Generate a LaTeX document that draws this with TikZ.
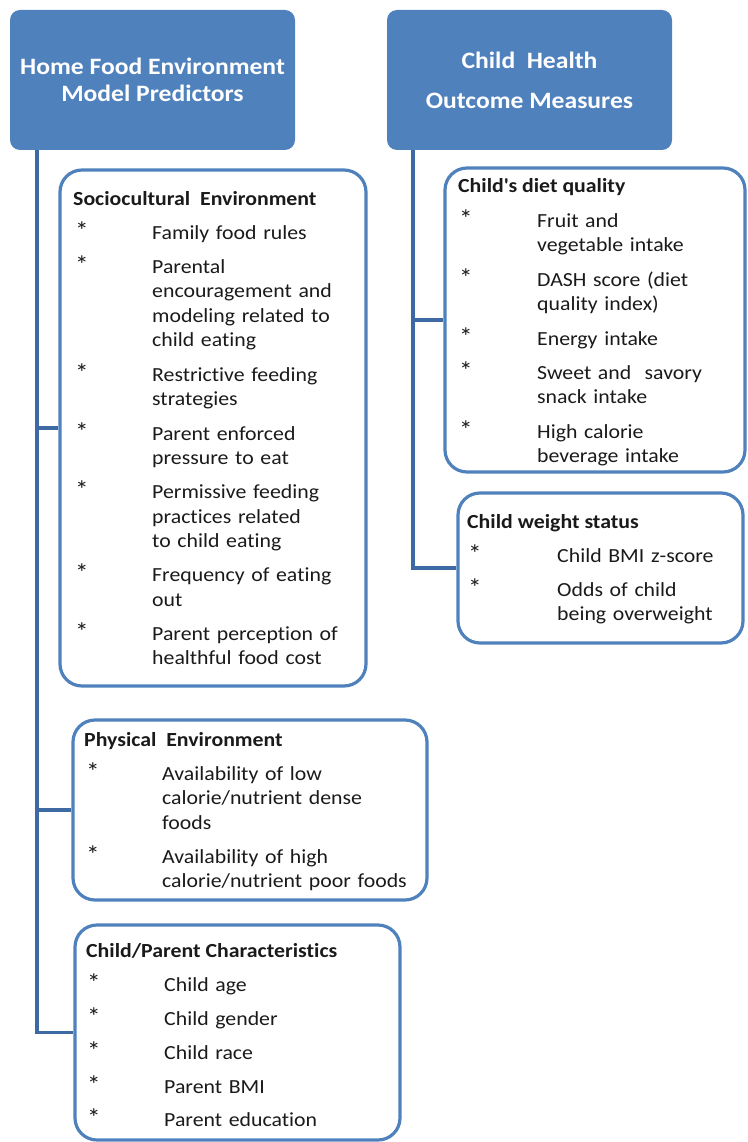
\documentclass[tikz,border=0pt]{standalone}
\usepackage{fontspec}
\setmainfont{Carlito}[FakeStretch=1.09,Ligatures=NoCommon]
\definecolor{hdrblue}{HTML}{4F81BD}
\definecolor{lineblue}{HTML}{3D6AA2}
\definecolor{txt}{HTML}{1A1A1A}

\begin{document}
\begin{tikzpicture}[x=1pt,y=-1pt,
    header/.style={rectangle,rounded corners=10pt,fill=hdrblue,text=white,
        font=\fontsize{23.5}{27.5}\selectfont\bfseries,align=center,
        inner sep=0pt,minimum width=285pt,minimum height=140pt},
    group/.style={rectangle,rounded corners=22pt,draw=hdrblue,line width=3.2pt,inner sep=0pt},
    title/.style={anchor=base west,inner sep=0pt,text=txt,font=\fontsize{20}{24.5}\selectfont\bfseries},
    bullet/.style={anchor=base west,inner sep=0pt,text=txt,font=\fontsize{25}{24.5}\selectfont},
    item/.style={anchor=base west,inner sep=0pt,text=txt,font=\fontsize{20}{24.5}\selectfont,
        align=left,text width=300pt},
    trunk/.style={draw=lineblue,line width=3.5pt}]

  \useasboundingbox (0,0) rectangle (747,1142);

  % headers
  \node[header] (hfe) at (152.5,80) {Home Food Environment\\Model Predictors};
  \node[header,font=\fontsize{23.5}{40}\selectfont\bfseries] (cho) at (529.5,80) {Child~ Health\\Outcome Measures};

  % group boxes
  \node[group,minimum width=306pt,minimum height=516pt] (soc) at (213,428) {};
  \node[group,minimum width=354pt,minimum height=180pt] (phys) at (250,810) {};
  \node[group,minimum width=325pt,minimum height=215pt] (chars) at (237.5,1032.5) {};
  \node[group,minimum width=300pt,minimum height=304pt] (diet) at (595,320) {};
  \node[group,minimum width=285pt,minimum height=150pt] (weight) at (600.5,568) {};

  % trunks
  \coordinate (lt) at ([xshift=27pt]hfe.south west);
  \coordinate (rt) at ([xshift=26pt]cho.south west);
  \draw[trunk] (lt) |- (soc.west);
  \draw[trunk] (lt) |- (phys.west);
  \draw[trunk] (lt) |- (chars.west);
  \draw[trunk] (rt) |- (diet.west);
  \draw[trunk] (rt) |- (weight.west);

  % sociocultural
  \node[title] (soc-t) at (73,205) {Sociocultural~ Environment};
  \foreach \y [count=\i] in {239,273,381,440,498.5,581.5,640}
    \node[bullet] (soc-s\i) at (75,\y) {*};
  \node[item] (soc-1) at (152,239) {Family food rules};
  \node[item] (soc-2) at (152,273) {Parental\\encouragement and\\modeling related to\\child eating};
  \node[item] (soc-3) at (152,381) {Restrictive feeding\\strategies};
  \node[item] (soc-4) at (152,440) {Parent enforced\\pressure to eat};
  \node[item] (soc-5) at (152,498.5) {Permissive feeding\\practices related\\to child eating};
  \node[item] (soc-6) at (152,581.5) {Frequency of eating\\out};
  \node[item] (soc-7) at (152,640) {Parent perception of\\healthful food cost};

  % physical
  \node[title] (phys-t) at (84,746) {Physical~ Environment};
  \foreach \y [count=\i] in {780,863}
    \node[bullet] (phys-s\i) at (86,\y) {*};
  \node[item] (phys-1) at (162,780) {Availability of low\\calorie/nutrient dense\\foods};
  \node[item] (phys-2) at (162,863) {Availability of high\\calorie/nutrient poor foods};

  % child/parent
  \node[title] (chars-t) at (86,957) {Child/Parent Characteristics};
  \foreach \y [count=\i] in {991,1025,1059,1093,1126}
    \node[bullet] (chars-s\i) at (87,\y) {*};
  \node[item] (chars-1) at (164,991) {Child age};
  \node[item] (chars-2) at (164,1025) {Child gender};
  \node[item] (chars-3) at (164,1059) {Child race};
  \node[item] (chars-4) at (164,1093) {Parent BMI};
  \node[item] (chars-5) at (164,1126) {Parent education};

  % diet quality
  \node[title] (diet-t) at (458,193) {Child\textquotesingle s diet quality};
  \foreach \y [count=\i] in {227,286,345,379,438}
    \node[bullet] (diet-s\i) at (459,\y) {*};
  \node[item] (diet-1) at (537,227) {Fruit and\\vegetable intake};
  \node[item] (diet-2) at (537,286) {DASH score (diet\\quality index)};
  \node[item] (diet-3) at (537,345) {Energy intake};
  \node[item] (diet-4) at (537,379) {Sweet and~ savory\\snack intake};
  \node[item] (diet-5) at (537,438) {High calorie\\beverage intake};

  % weight status
  \node[title] (weight-t) at (467,528) {Child weight status};
  \foreach \y [count=\i] in {562,596}
    \node[bullet] (weight-s\i) at (468,\y) {*};
  \node[item] (weight-1) at (557,562) {Child BMI z-score};
  \node[item] (weight-2) at (557,596) {Odds of child\\being overweight};

\end{tikzpicture}
\end{document}
